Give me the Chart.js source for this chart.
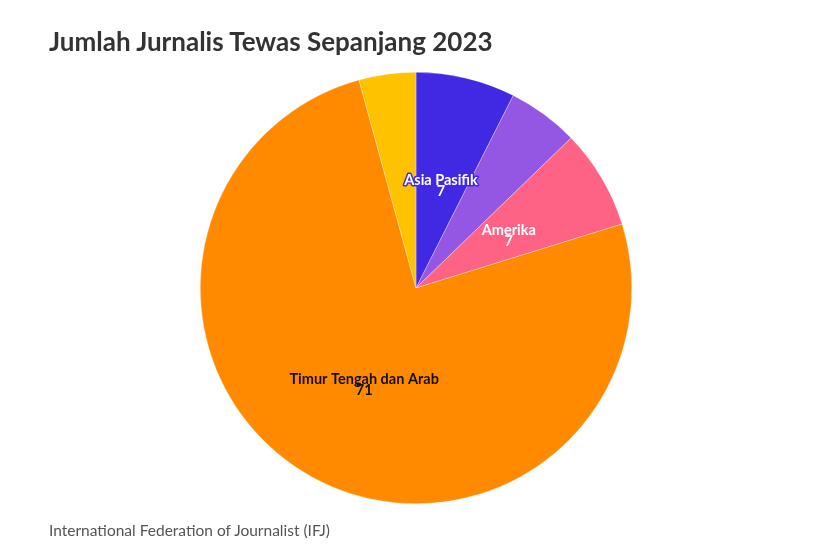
<!DOCTYPE html>
<html>
<head>
<meta charset="utf-8">
<script src="https://cdn.jsdelivr.net/npm/chart.js@4/dist/chart.umd.min.js"></script>
<style>
  html, body { margin: 0; padding: 0; background: #fff; }
  #wrap { position: relative; width: 813px; height: 549px; overflow: hidden; }
  #title { position: absolute; left: 49px; top: 25px; font-family: Lato, sans-serif; font-weight: 700; font-size: 26px; color: #333; white-space: nowrap; }
  #source { position: absolute; left: 49px; top: 521px; font-family: Lato, sans-serif; font-size: 15.5px; color: #555; white-space: nowrap; }
  canvas { position: absolute; left: 0; top: 0; }
</style>
</head>
<body>
<div id="wrap">
  <canvas id="c" width="813" height="549"></canvas>
  <div id="title">Jumlah Jurnalis Tewas Sepanjang 2023</div>
  <div id="source">International Federation of Journalist (IFJ)</div>
</div>
<script>
const categories = ["Asia Pasifik", "Afrika", "Amerika", "Timur Tengah dan Arab", "Eropa"];
const values = [7, 5, 7, 71, 4];
const colors = ["#4129e4", "#9457e3", "#fe6385", "#ff8a00", "#ffc200"];
const labelColors = ["#ffffff", "#ffffff", "#ffffff", "#111111", "#111111"];
const showLabel = [true, false, true, true, false];

const sliceLabels = {
  id: 'sliceLabels',
  afterDatasetsDraw(chart) {
    const ctx = chart.ctx;
    const meta = chart.getDatasetMeta(0);
    ctx.save();
    ctx.font = "bold 14.5px Lato, sans-serif";
    ctx.textAlign = "center";
    ctx.textBaseline = "middle";
    ctx.lineJoin = "round";
    meta.data.forEach((arc, i) => {
      if (!showLabel[i]) return;
      const p = arc.tooltipPosition();
      const lines = [categories[i], String(values[i])];
      lines.forEach((t, k) => {
        const y = p.y - 3 + k * 11;
        ctx.lineWidth = 3;
        ctx.strokeStyle = colors[i];
        ctx.strokeText(t, p.x, y);
      });
      lines.forEach((t, k) => {
        const y = p.y - 3 + k * 11;
        ctx.fillStyle = labelColors[i];
        ctx.fillText(t, p.x, y);
      });
    });
    ctx.restore();
  }
};

new Chart(document.getElementById('c'), {
  type: 'pie',
  data: {
    labels: categories,
    datasets: [{
      data: values,
      backgroundColor: colors,
      borderColor: 'rgba(255,255,255,0.6)',
      borderWidth: 0.5,
      hoverOffset: 0
    }]
  },
  options: {
    responsive: false,
    animation: false,
    layout: { padding: { top: 72, bottom: 45, left: 19, right: 0 } },
    plugins: {
      legend: { display: false },
      tooltip: { enabled: false },
      title: { display: false }
    }
  },
  plugins: [sliceLabels]
});
</script>
</body>
</html>
